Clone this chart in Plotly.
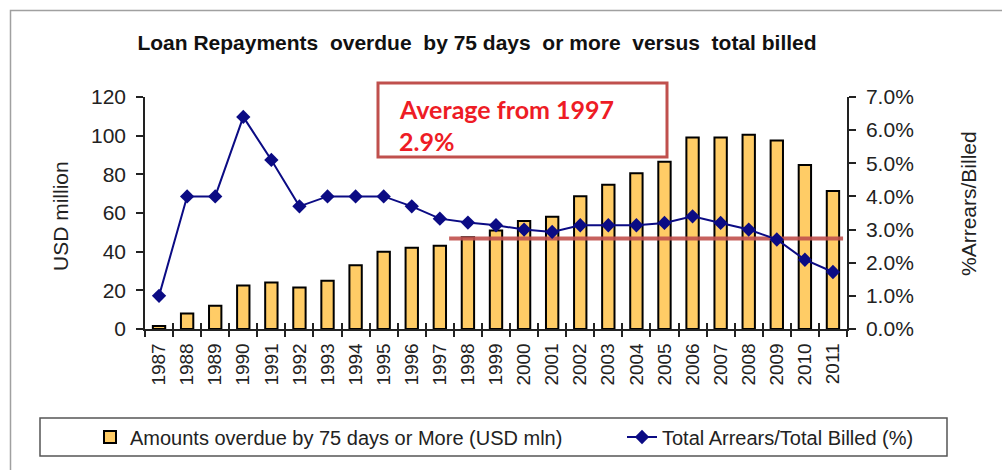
import plotly.graph_objects as go

years = list(range(1987, 2012))
year_labels = [str(y) for y in years]
overdue_usd_mln = [1.5, 8, 12, 22.5, 24, 21.5, 25, 33, 40, 42, 43, 47.5, 51, 55.8, 58,
                   68.7, 74.6, 80.5, 86.5, 99, 99, 100.5, 97.5, 84.8, 71.4]
arrears_pct = [1.0, 4.0, 4.0, 6.4, 5.1, 3.7, 4.0, 4.0, 4.0, 3.7, 3.33, 3.21, 3.13, 3.0, 2.93,
               3.13, 3.13, 3.13, 3.2, 3.4, 3.2, 3.0, 2.7, 2.09, 1.72]
avg_x = [1997.33, 2011.36]
avg_pct = [2.73, 2.73]
left_ticks = [0, 20, 40, 60, 80, 100, 120]
right_ticks = [0, 1, 2, 3, 4, 5, 6, 7]

W, H = 1002, 470
L, R, T, B = 145, 155, 97, 141
pw, ph = W - L - R, H - T - B

def px(x):
    return (x - L) / pw

def py(y):
    return (H - B - y) / ph

FONT = "Liberation Sans, Arial, sans-serif"
boundaries = [y - 0.5 for y in years] + [years[-1] + 0.5]

fig = go.Figure()
fig.add_trace(go.Bar(
    x=years, y=overdue_usd_mln, width=0.44,
    marker=dict(color="#FFCC66", line=dict(color="black", width=2)),
    name="Amounts overdue by 75 days or More (USD mln)",
    xaxis="x", yaxis="y", legend="legend",
))
fig.add_trace(go.Scatter(
    x=avg_x, y=avg_pct, mode="lines",
    line=dict(color="rgba(192,80,77,0.9)", width=4),
    showlegend=False, xaxis="x2", yaxis="y2", hoverinfo="skip",
))
fig.add_trace(go.Scatter(
    x=years, y=arrears_pct, mode="lines+markers",
    line=dict(color="#0b0b84", width=2),
    marker=dict(symbol="diamond", size=11, color="#0b0b84"),
    name="Total Arrears/Total Billed (%)",
    xaxis="x2", yaxis="y2", legend="legend2",
))

axis_col = "#222222"
tickfont = dict(family=FONT, size=21, color="#222222")
legfont = dict(family=FONT, size=20, color="#222222")

fig.update_layout(
    width=W, height=H,
    margin=dict(l=L, r=R, t=T, b=B, autoexpand=False),
    paper_bgcolor="white", plot_bgcolor="white",
    title=dict(text="<b>Loan Repayments  overdue  by 75 days  or more  versus  total billed</b>",
               x=477 / W, xanchor="center", y=1 - 43 / H, yanchor="middle",
               font=dict(family=FONT, size=21, color="#111111")),
    xaxis=dict(range=[1986.5, 2011.5], tickmode="array", tickvals=years, ticktext=year_labels,
               tickangle=-90, ticks="", showline=True, linecolor=axis_col, linewidth=1.5,
               showgrid=False, zeroline=False, ticklabelstandoff=5,
               tickfont=dict(family=FONT, size=19, color="#222222"),
               minor=dict(tickmode="array", tickvals=boundaries, ticks="outside", ticklen=6,
                          tickcolor=axis_col, tickwidth=1.5, showgrid=False)),
    xaxis2=dict(range=[1986.5, 2011.5], overlaying="x", anchor="y2", side="bottom",
                tickmode="array", tickvals=boundaries, ticks="inside", ticklen=6,
                tickcolor=axis_col, tickwidth=1.5, showticklabels=False,
                showgrid=False, zeroline=False, showline=False),
    yaxis=dict(range=[0, 120], tickmode="array", tickvals=left_ticks, ticks="outside",
               ticklen=7, tickcolor=axis_col, tickwidth=1.5, showline=True, linecolor=axis_col,
               linewidth=1.5, showgrid=False, zeroline=False, tickfont=tickfont,
               ticklabelstandoff=6),
    yaxis2=dict(range=[0, 7], overlaying="y", side="right", anchor="x2", tickmode="array",
                tickvals=right_ticks, ticktext=[f"{v:.1f}%" for v in right_ticks],
                ticks="outside", ticklen=7, tickcolor=axis_col, tickwidth=1.5,
                showline=True, linecolor=axis_col, linewidth=1.5,
                showgrid=False, zeroline=False, tickfont=tickfont, ticklabelstandoff=6),
    yaxis3=dict(range=[0, 120], overlaying="y", side="left", anchor="x", tickmode="array",
                tickvals=left_ticks, ticks="inside", ticklen=7, tickcolor=axis_col, tickwidth=1.5,
                showticklabels=False, showgrid=False, zeroline=False, showline=False),
    yaxis4=dict(range=[0, 7], overlaying="y", side="right", anchor="x2", tickmode="array",
                tickvals=right_ticks, ticks="inside", ticklen=7, tickcolor=axis_col, tickwidth=1.5,
                showticklabels=False, showgrid=False, zeroline=False, showline=False),
    legend=dict(orientation="h", x=px(90), xanchor="left", y=py(437), yanchor="middle",
                font=legfont, bgcolor="rgba(0,0,0,0)", borderwidth=0),
    legend2=dict(orientation="h", x=px(622), xanchor="left", y=py(437), yanchor="middle",
                 font=legfont, bgcolor="rgba(0,0,0,0)", borderwidth=0),
    showlegend=True,
)

shapes = [
    dict(type="rect", xref="paper", yref="paper", x0=px(10.5), x1=px(1010), y0=py(480), y1=py(10.5),
         line=dict(color="#a0a0a0", width=1.5), fillcolor="rgba(0,0,0,0)", layer="below"),
    dict(type="rect", xref="paper", yref="paper", x0=px(40), x1=px(947), y0=py(456), y1=py(418),
         line=dict(color="#555555", width=1.5), fillcolor="rgba(0,0,0,0)"),
    dict(type="rect", xref="paper", yref="paper", x0=px(378), x1=px(667), y0=py(157), y1=py(83),
         line=dict(color="#c0504d", width=3), fillcolor="white"),
]
fig.update_layout(shapes=shapes)

ann_font = dict(family="Lato, Carlito, sans-serif", size=25, color="#ee1c25")
fig.add_annotation(text="<b>Average from 1997</b>", xref="paper", yref="paper",
                   x=px(397), y=py(109), xanchor="left", yanchor="middle", showarrow=False,
                   font=ann_font)
fig.add_annotation(text="<b>2.9%</b>", xref="paper", yref="paper",
                   x=px(397), y=py(141), xanchor="left", yanchor="middle", showarrow=False,
                   font=ann_font)
fig.add_annotation(text="USD million", xref="paper", yref="paper", x=px(60), y=py(216),
                   textangle=-90, showarrow=False, xanchor="center", yanchor="middle",
                   font=dict(family=FONT, size=21, color="#222222"))
fig.add_annotation(text="%Arrears/Billed", xref="paper", yref="paper", x=px(968), y=py(204),
                   textangle=-90, showarrow=False, xanchor="center", yanchor="middle",
                   font=dict(family=FONT, size=21, color="#222222"))

fig.write_html("out.html", config={"displayModeBar": False},
               post_script="document.body.style.margin='0px';")
